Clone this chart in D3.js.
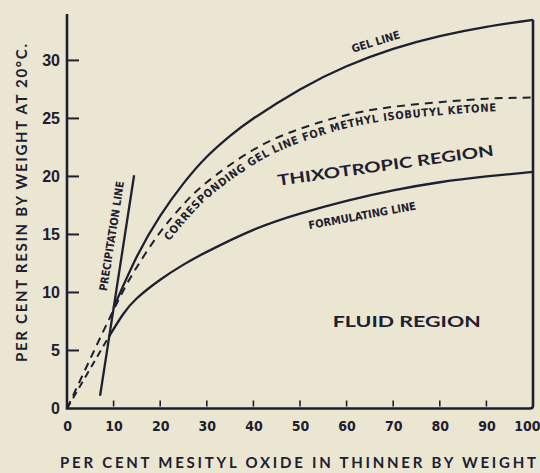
<!DOCTYPE html>
<html>
<head>
<meta charset="utf-8">
<script src="https://cdn.jsdelivr.net/npm/d3@7"></script>
<style>
  html, body { margin: 0; padding: 0; background: #ebe6d2; }
  svg { display: block; }
</style>
</head>
<body>
<script>
// chart values
const xTicks = [0, 10, 20, 30, 40, 50, 60, 70, 80, 90, 100];
const yTicks = [0, 5, 10, 15, 20, 25, 30];

const gelX = [10, 15, 20, 25, 30, 35, 40, 50, 60, 70, 80, 90, 100];
const gelY = [8.7, 13.1, 16.6, 19.4, 21.7, 23.5, 25.0, 27.5, 29.5, 31.0, 32.1, 32.9, 33.5];

const mibkX = [0, 10, 15, 20, 25, 30, 40, 50, 60, 70, 80, 90, 100];
const mibkY = [0, 8.5, 12.2, 15.2, 17.6, 19.5, 22.3, 24.1, 25.3, 26.0, 26.4, 26.7, 26.8];

const formX = [9, 12, 15, 20, 25, 30, 40, 50, 60, 70, 80, 90, 100];
const formY = [6.2, 8.1, 9.5, 11.1, 12.4, 13.5, 15.4, 16.8, 17.9, 18.8, 19.5, 20.0, 20.4];

const lowDashX = [0, 9];
const lowDashY = [0, 6.2];

const precipX = [7.1, 14.4];
const precipY = [1.1, 20.1];

const width = 540, height = 473;
const ink = "#1d2030";
const narrow = "'Liberation Sans Narrow', 'DejaVu Sans Condensed', sans-serif";
const plain = "'Liberation Sans', Arial, sans-serif";
const wide = "Lato, 'Noto Sans', sans-serif";

const svg = d3.select("body").append("svg")
    .attr("width", width)
    .attr("height", height);

svg.append("rect").attr("width", width).attr("height", height).attr("fill", "#ebe6d2");

const x = d3.scaleLinear().domain([0, 100]).range([67, 533]);
const y = d3.scaleLinear().domain([0, 34]).range([408.5, 14]);

const pts = (xs, ys) => xs.map((v, i) => [v, ys[i]]);
const line = d3.line().x(d => x(d[0])).y(d => y(d[1])).curve(d3.curveNatural);
const straight = d3.line().x(d => x(d[0])).y(d => y(d[1]));

// axes
const xAxis = d3.axisBottom(x).tickValues(xTicks).tickSize(0).tickPadding(13);
const gx = svg.append("g").attr("transform", `translate(0,${y(0)})`).call(xAxis);
gx.select(".domain").remove();
gx.selectAll("text")
    .attr("fill", ink)
    .style("font", `bold 14px ${narrow}`);
// last label sits against the right edge
gx.selectAll(".tick").filter(d => d === 100).select("text")
    .attr("text-anchor", "end").attr("x", 7);

svg.append("g").selectAll("line")
    .data(xTicks.slice(1, -1))
    .join("line")
    .attr("x1", d => x(d)).attr("x2", d => x(d))
    .attr("y1", y(0) - 2).attr("y2", y(0) - 8)
    .attr("stroke", ink).attr("stroke-width", 1.6);

const yAxis = d3.axisLeft(y).tickValues(yTicks).tickSize(0).tickPadding(7);
const gy = svg.append("g").attr("transform", `translate(${x(0)},0)`).call(yAxis);
gy.select(".domain").remove();
gy.selectAll("text")
    .attr("fill", ink)
    .style("font", `bold 16px ${plain}`);

svg.append("g").selectAll("line")
    .data(yTicks.slice(1))
    .join("line")
    .attr("x1", x(0)).attr("x2", x(0) + 12)
    .attr("y1", d => y(d)).attr("y2", d => y(d))
    .attr("stroke", ink).attr("stroke-width", 2);

// frame: left axis, bottom axis, right edge up to the gel line
svg.append("path")
    .attr("d", `M${x(0)},${y(34)}V${y(0)}H${x(100) - 3}Q${x(100)},${y(0)} ${x(100)},${y(0) - 3}V${y(gelY[gelY.length - 1])}`)
    .attr("fill", "none").attr("stroke", ink).attr("stroke-width", 2.6);

// curves
svg.append("path").attr("d", line(pts(gelX, gelY)))
    .attr("fill", "none").attr("stroke", ink).attr("stroke-width", 2.3);
svg.append("path").attr("d", line(pts(formX, formY)))
    .attr("fill", "none").attr("stroke", ink).attr("stroke-width", 2.3);
svg.append("path").attr("d", straight(pts(precipX, precipY)))
    .attr("fill", "none").attr("stroke", ink).attr("stroke-width", 2.3);

const mibkPath = svg.append("path").attr("d", line(pts(mibkX, mibkY)))
    .attr("fill", "none").attr("stroke", ink).attr("stroke-width", 2)
    .attr("stroke-dasharray", "8,6");
svg.append("path").attr("d", straight(pts(lowDashX, lowDashY)))
    .attr("fill", "none").attr("stroke", ink).attr("stroke-width", 2)
    .attr("stroke-dasharray", "7,5");

// label path running just under the dashed curve
const node = mibkPath.node();
const total = node.getTotalLength();
const offPts = [];
for (let s = 0; s <= total; s += 3) {
    const p = node.getPointAtLength(s);
    const q = node.getPointAtLength(Math.min(total, s + 1));
    const r = node.getPointAtLength(Math.max(0, s - 1));
    const dx = q.x - r.x, dy = q.y - r.y, len = Math.hypot(dx, dy) || 1;
    offPts.push([p.x - dy / len * 13, p.y + dx / len * 13]);
}
const offStart = offPts.findIndex(p => p[0] >= x(22));
svg.append("defs").append("path")
    .attr("id", "mibkLabel")
    .attr("d", d3.line()(offPts.slice(offStart)));

svg.append("text")
    .attr("fill", ink)
    .style("font", `bold 11px ${narrow}`)
    .append("textPath")
    .attr("href", "#mibkLabel")
    .attr("textLength", x(100) - x(22) + 2)
    .attr("lengthAdjust", "spacing")
    .text("CORRESPONDING GEL LINE FOR METHYL ISOBUTYL KETONE");

// rotated labels
function label(txt, cx, cy, angle, font, len) {
    svg.append("text")
        .attr("transform", `translate(${cx},${cy}) rotate(${angle})`)
        .attr("text-anchor", "middle")
        .attr("fill", ink)
        .attr("textLength", len)
        .attr("lengthAdjust", "spacingAndGlyphs")
        .style("font", font)
        .text(txt);
}

label("GEL LINE", x(66.5), y(31.3), -17, `bold 11px ${narrow}`, 50);
label("PRECIPITATION LINE", x(10.4), y(14.8), -81, `bold 11px ${narrow}`, 111);
label("FORMULATING LINE", x(63.5), y(16.3), -10.5, `bold 11px ${narrow}`, 109);
label("THIXOTROPIC REGION", x(68.5), y(20.5), -8, `bold 15px ${wide}`, 218);
label("FLUID REGION", x(72.9), y(7.05), 0, `bold 16px ${wide}`, 148);

// axis titles
svg.append("text")
    .attr("x", 298).attr("y", 468)
    .attr("text-anchor", "middle")
    .attr("fill", ink)
    .attr("textLength", 476)
    .attr("lengthAdjust", "spacing")
    .style("font", `bold 15px ${wide}`)
    .text("PER CENT MESITYL OXIDE IN THINNER BY WEIGHT");

svg.append("text")
    .attr("transform", `translate(27,203) rotate(-90)`)
    .attr("text-anchor", "middle")
    .attr("fill", ink)
    .attr("textLength", 318)
    .attr("lengthAdjust", "spacing")
    .style("font", `bold 15px ${wide}`)
    .text("PER CENT RESIN BY WEIGHT AT 20°C.");
</script>
</body>
</html>
